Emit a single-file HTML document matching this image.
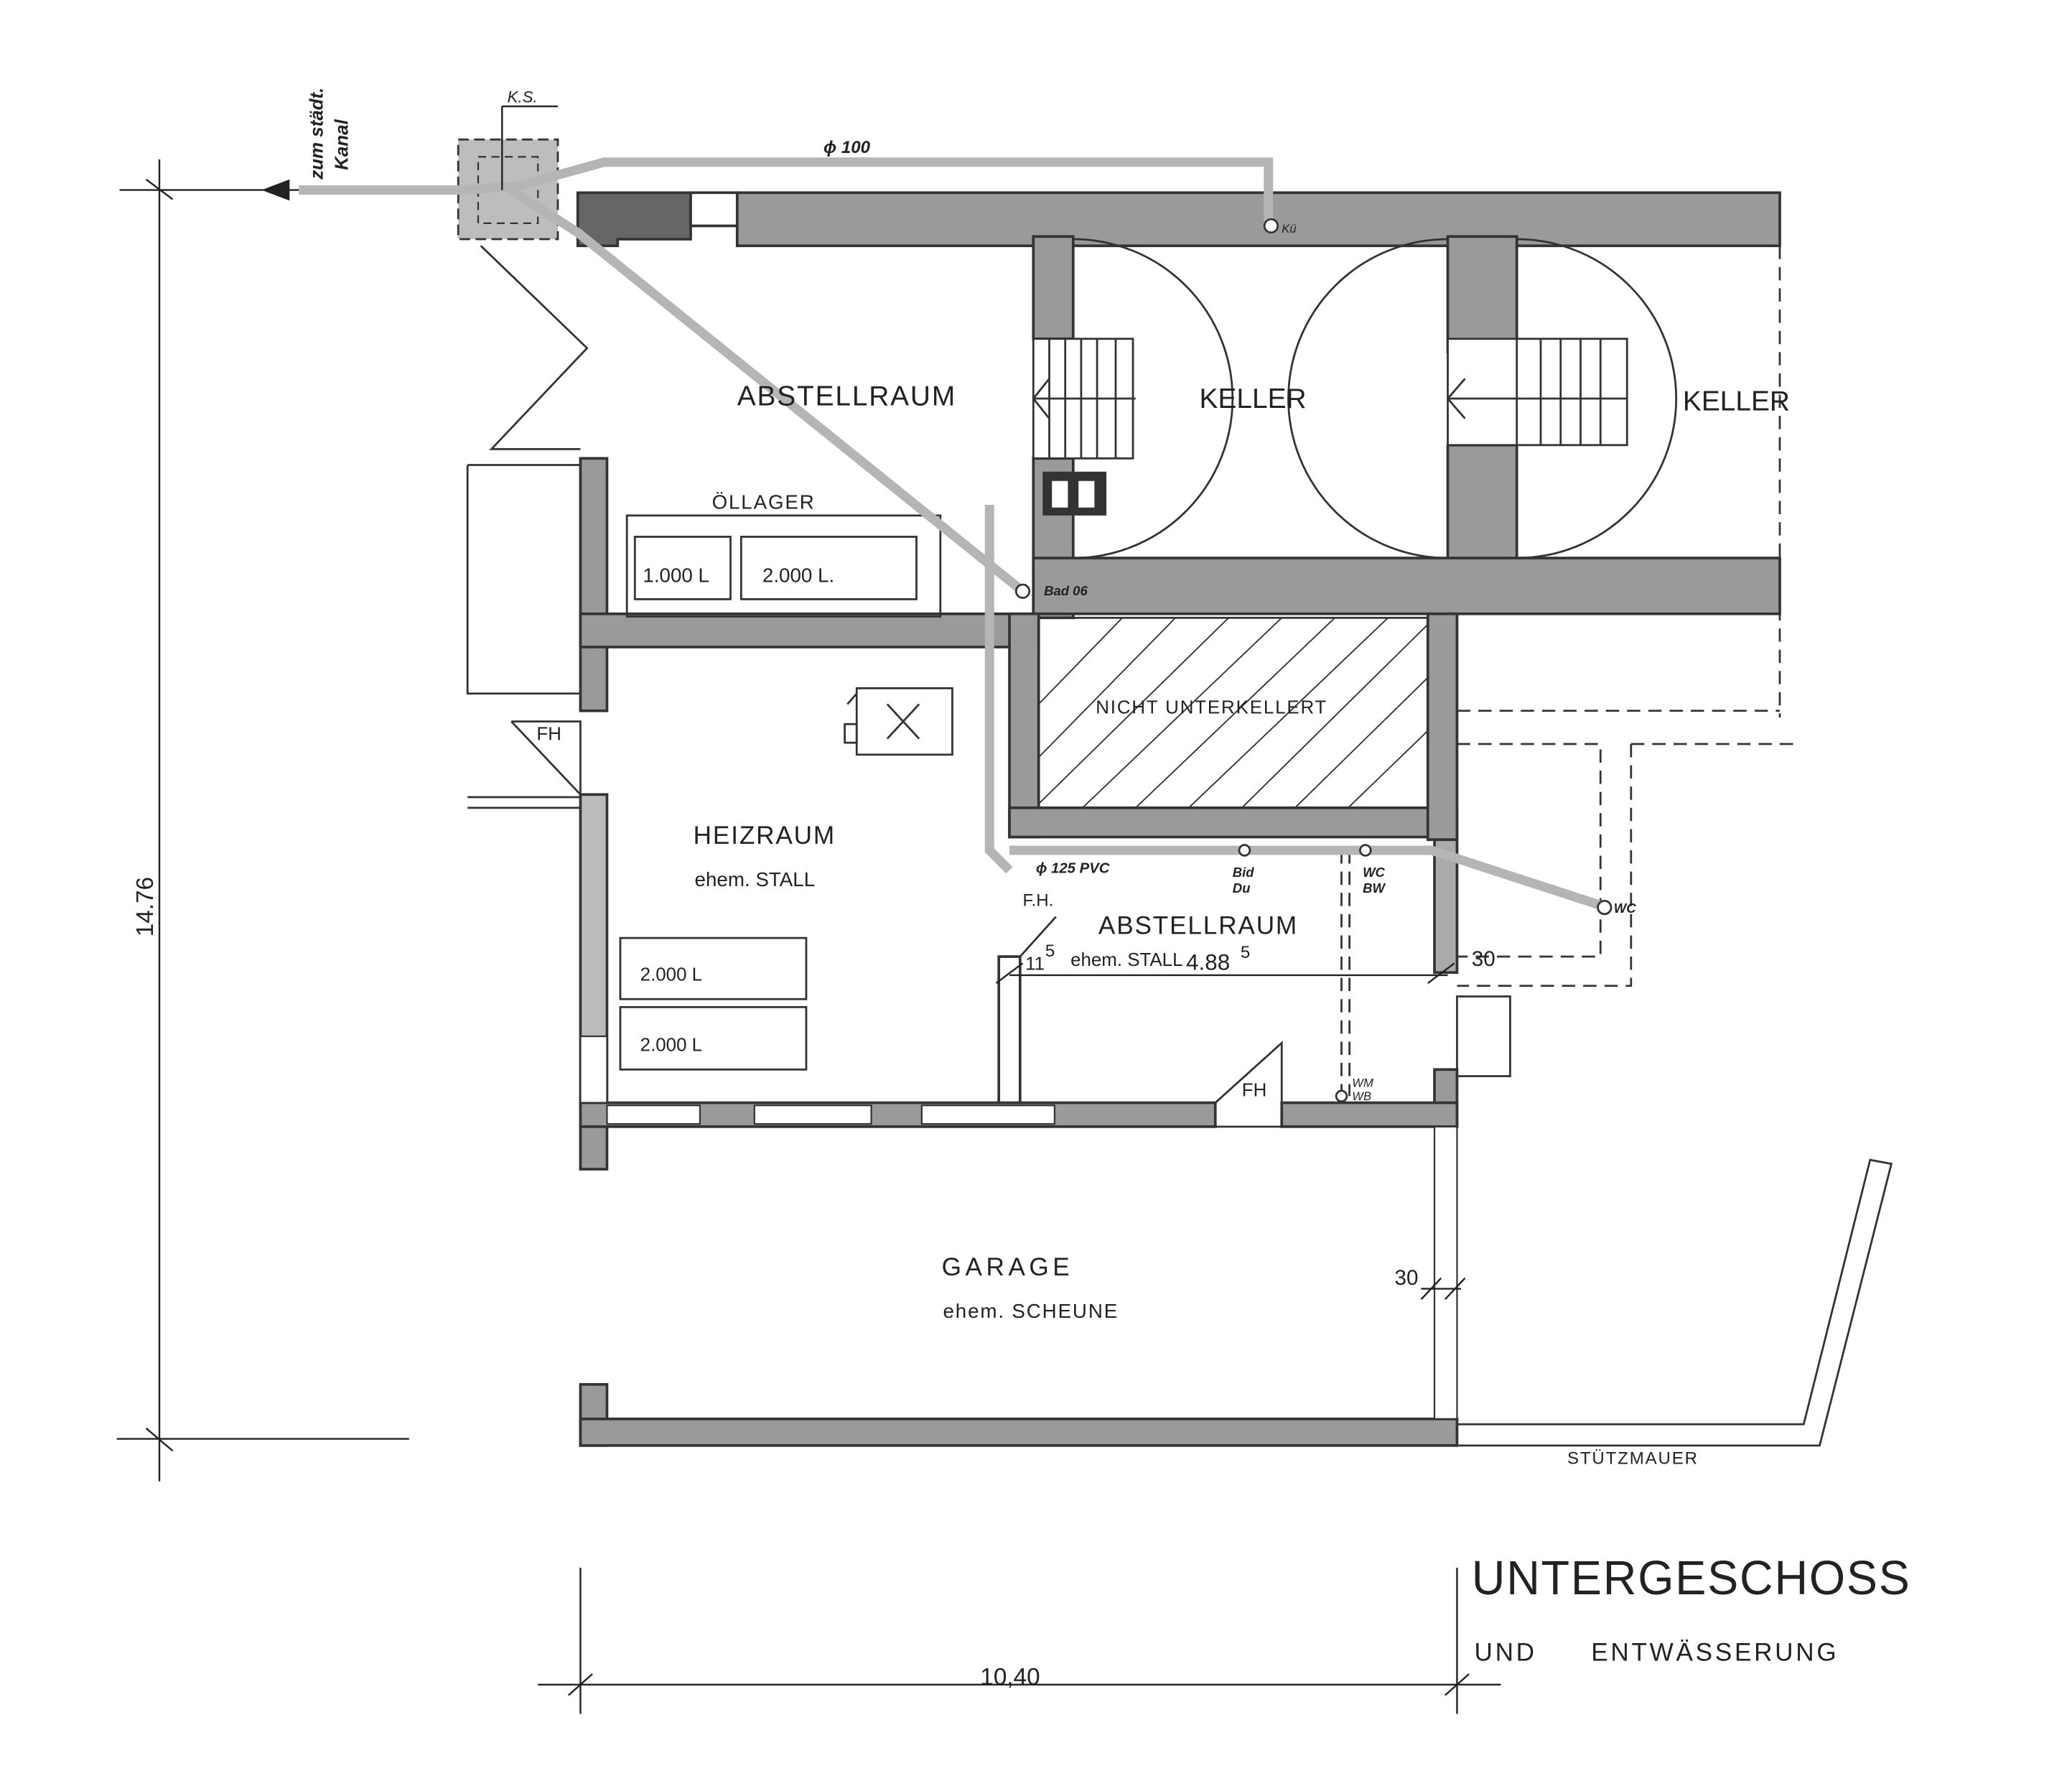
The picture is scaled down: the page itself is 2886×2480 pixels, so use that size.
<!DOCTYPE html>
<html><head><meta charset="utf-8"><style>html,body{margin:0;padding:0;background:#fff}svg{display:block}</style></head>
<body>
<svg width="2886" height="2480" viewBox="0 0 1560 1340.5" xmlns="http://www.w3.org/2000/svg" font-family="Liberation Sans, sans-serif">
<rect width="1560" height="1341" fill="#fff"/>
<!-- KS box -->
<rect x="345" y="105" width="75" height="75" fill="#bdbdbd" stroke="#333" stroke-width="1.5" stroke-dasharray="8 4"/>
<rect x="360" y="118" width="45" height="50" fill="none" stroke="#333" stroke-width="1.2" stroke-dasharray="6 4"/>
<g fill="#9a9a9a" stroke="#333" stroke-width="2">
<rect x="555" y="145" width="785" height="40"/>
<path d="M435 145 H520 V180 H465 V185 H435 Z" fill="#666"/>
<rect x="520" y="145" width="35" height="25" fill="#fff"/>
<rect x="778" y="178" width="30" height="77"/>
<rect x="778" y="345" width="30" height="120"/>
<rect x="1090" y="178" width="52" height="87"/>
<rect x="1090" y="335" width="52" height="90"/>
<rect x="778" y="420" width="562" height="42"/>
<rect x="437" y="345" width="20" height="190"/>
<rect x="437" y="598" width="20" height="232" fill="#bbb"/>
<rect x="437" y="462" width="345" height="25"/>
<rect x="760" y="462" width="22" height="168"/>
<rect x="760" y="608" width="337" height="22"/>
<rect x="1075" y="462" width="22" height="170"/>
<rect x="1080" y="632" width="17" height="100" fill="#aaa"/>
<rect x="1080" y="805" width="17" height="43"/>
<rect x="437" y="830" width="478" height="18"/>
<rect x="965" y="830" width="132" height="18"/>
<rect x="752" y="720" width="16" height="110" fill="#fff"/>
<rect x="437" y="848" width="20" height="32"/>
<rect x="437" y="1042" width="20" height="46"/>
<rect x="437" y="1068" width="660" height="20"/>
</g>
<g fill="#fff" stroke="#333" stroke-width="1.2">
<rect x="457" y="832" width="70" height="14"/><rect x="568" y="832" width="88" height="14"/><rect x="694" y="832" width="100" height="14"/>
<rect x="437" y="780" width="20" height="50"/>
<rect x="1080" y="848" width="17" height="220"/>
</g>
<g fill="none" stroke="#333" stroke-width="1.5">
<path d="M808 180 A120 120 0 0 1 808 420"/>
<path d="M1090 180 A120 120 0 0 0 1090 420"/>
<path d="M1142 180 A120 120 0 0 1 1142 420"/>
<rect x="778" y="255" width="75" height="90" fill="#fff"/>
<path d="M790 255V345M802 255V345M814 255V345M826 255V345M840 255V345M778 300H855M790 285L778 300L790 315"/>
<rect x="1090" y="255" width="135" height="80" fill="#fff"/>
<path d="M1142 255V335M1160 255V335M1175 255V335M1190 255V335M1205 255V335M1090 300H1225M1103 285L1090 300L1103 315"/>
<path d="M362 185 L442 262 L370 338 H437"/>
<path d="M352 350 H437 M352 350 V522 H437"/>
<path d="M385 543 H437 V598 M385 543 L437 598"/>
<path d="M352 600 H437 M352 608 H437"/>
<rect x="472" y="388" width="236" height="76"/>
<rect x="478" y="404" width="72" height="47"/>
<rect x="558" y="404" width="132" height="47"/>
<rect x="467" y="706" width="140" height="46"/>
<rect x="467" y="758" width="140" height="47"/>
<rect x="645" y="518" width="72" height="50"/>
<rect x="636" y="545" width="9" height="14"/>
<path d="M668 530L692 556M692 530L668 556M638 530 L645 522"/>
<path d="M768 720 L795 690 M915 830 L965 785 V830"/>
<path d="M457 848 H1080"/>
<path d="M1097 1072 H1358 L1408 873 L1424 876 L1370 1088 H1097"/>
<path stroke-dasharray="10 6" d="M1340 185 V540 M1097 535 H1340 M1097 560 H1205 V720 H1097 M1228 560 H1350 M1228 560 V742 H1097 M1010 640 V825 M1016 640 V825"/>
<rect x="1097" y="750" width="40" height="60"/>
<rect x="782" y="465" width="293" height="143"/>
</g>
<g stroke="#333" stroke-width="1">
<path d="M782 530 L845 465 M782 570 L885 465 M782 605 L925 465 M815 608 L965 465 M855 608 L1005 465 M895 608 L1045 465 M935 608 L1075 470 M975 608 L1075 510 M1015 608 L1075 550"/>
</g>
<g fill="none" stroke="#b5b5b5" stroke-width="7">
<path d="M225 143 H350 L390 140 L455 122 H955 V168"/>
<path d="M380 140 L435 175 L770 445"/>
<path d="M745 380 V640 L760 655 M760 640 H1078 L1210 683"/>
</g>
<g fill="#fff" stroke="#333" stroke-width="1.5">
<circle cx="770" cy="445" r="5"/><circle cx="957" cy="170" r="5"/><circle cx="937" cy="640" r="4"/><circle cx="1028" cy="640" r="4"/><circle cx="1208" cy="683" r="5"/><circle cx="1010" cy="825" r="4"/>
</g>
<rect x="785" y="355" width="48" height="33" fill="#333"/>
<rect x="792" y="362" width="12" height="20" fill="#fff"/><rect x="812" y="362" width="12" height="20" fill="#fff"/>
<g stroke="#222" stroke-width="1.3" fill="none">
<path d="M90 143 H225 M120 120 V1115 M110 135 L130 150 M88 1083 H308 M110 1075 L130 1092"/>
<path d="M405 1268 H1130 M437 1180 V1290 M1097 1180 V1290 M428 1276 L446 1260 M1088 1276 L1106 1260"/>
<path d="M760 734 H1090 M750 740 L770 725 M1075 740 L1095 725 M1070 970 H1100 M1070 978 L1085 962 M1088 978 L1103 962"/>
<path d="M378 80 V143 M378 80 H420"/>
</g>
<path d="M197 143 L218 135 L218 151 Z" fill="#222"/>
<g fill="#222">
<text x="555" y="305" font-size="21" letter-spacing="1">ABSTELLRAUM</text>
<text x="903" y="307" font-size="21">KELLER</text>
<text x="1267" y="309" font-size="21">KELLER</text>
<text x="536" y="383" font-size="15" letter-spacing="1">ÖLLAGER</text>
<text x="484" y="438" font-size="15">1.000 L</text>
<text x="574" y="438" font-size="15">2.000 L.</text>
<text x="825" y="537" font-size="14" letter-spacing="1">NICHT UNTERKELLERT</text>
<text x="522" y="635" font-size="19" letter-spacing="1">HEIZRAUM</text>
<text x="523" y="667" font-size="15">ehem.  STALL</text>
<text x="827" y="703" font-size="19" letter-spacing="1">ABSTELLRAUM</text>
<text x="806" y="727" font-size="14">ehem. STALL</text>
<text x="893" y="730" font-size="17">4.88</text><text x="934" y="721" font-size="13">5</text>
<text x="772" y="730" font-size="14">11</text><text x="787" y="720" font-size="13">5</text>
<text x="1108" y="727" font-size="16">30</text>
<text x="1050" y="967" font-size="16">30</text>
<text x="482" y="738" font-size="14">2.000 L</text>
<text x="482" y="791" font-size="14">2.000 L</text>
<text x="404" y="557" font-size="14">FH</text>
<text x="770" y="682" font-size="13">F.H.</text>
<text x="935" y="825" font-size="14">FH</text>
<text x="709" y="960" font-size="19" letter-spacing="3">GARAGE</text>
<text x="710" y="992" font-size="15" letter-spacing="1">ehem. SCHEUNE</text>
<text x="1180" y="1102" font-size="13" letter-spacing="1">STÜTZMAUER</text>
<text x="1108" y="1200" font-size="36" letter-spacing="1" transform="translate(1108 0) scale(0.97 1) translate(-1108 0)">UNTERGESCHOSS</text>
<text x="1110" y="1250" font-size="19" letter-spacing="2">UND</text>
<text x="1198" y="1250" font-size="19" letter-spacing="2">ENTWÄSSERUNG</text>
<text x="738" y="1268" font-size="18">10,40</text>
<text x="382" y="77" font-size="12" font-style="italic">K.S.</text>
<text x="620" y="115" font-size="13" font-style="italic" font-weight="bold">ϕ 100</text>
<text x="780" y="657" font-size="11" font-style="italic" font-weight="bold">ϕ 125 PVC</text>
<text x="786" y="448" font-size="10" font-style="italic" font-weight="bold">Bad 06</text>
<text x="928" y="660" font-size="10" font-style="italic" font-weight="bold">Bid</text>
<text x="928" y="672" font-size="10" font-style="italic" font-weight="bold">Du</text>
<text x="1026" y="660" font-size="10" font-style="italic" font-weight="bold">WC</text>
<text x="1026" y="672" font-size="10" font-style="italic" font-weight="bold">BW</text>
<text x="1215" y="687" font-size="10" font-style="italic" font-weight="bold">WC</text>
<text x="965" y="175" font-size="9" font-style="italic">Kü</text>
<text x="1018" y="818" font-size="9" font-style="italic">WM</text>
<text x="1018" y="828" font-size="9" font-style="italic">WB</text>
<text transform="translate(243 135) rotate(-90)" font-size="14" font-style="italic" font-weight="bold">zum städt.</text>
<text transform="translate(262 128) rotate(-90)" font-size="14" font-style="italic" font-weight="bold">Kanal</text>
<text transform="translate(115 705) rotate(-90)" font-size="18">14.76</text>
</g>
</svg>
</body></html>
